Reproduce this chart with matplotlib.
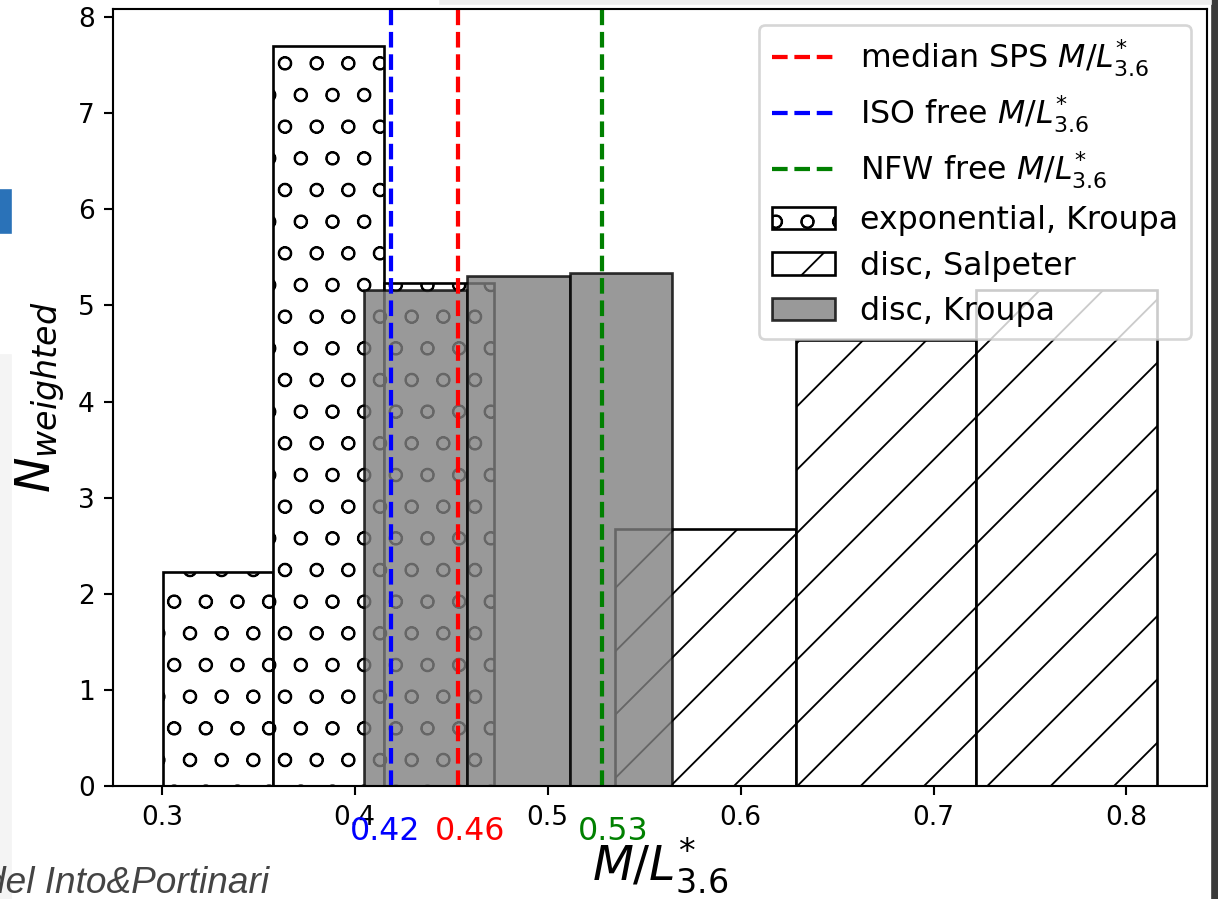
import numpy as np
import matplotlib
matplotlib.use("Agg")
from matplotlib import pyplot as plt
from matplotlib.patches import Rectangle

# bin edges and weighted counts
exp_kroupa_edges = [0.3005, 0.3574, 0.4153, 0.4722]
exp_kroupa_counts = [2.23, 7.70, 5.23]

disc_salpeter_edges = [0.5347, 0.6288, 0.7219, 0.8160]
disc_salpeter_counts = [2.67, 4.64, 5.16]

disc_kroupa_edges = [0.4050, 0.4583, 0.5115, 0.5643]
disc_kroupa_counts = [5.16, 5.31, 5.34]

# reference M/L values (vertical lines) and their printed labels
ref_names = ["median SPS", "ISO free", "NFW free"]
ref_values = [0.4536, 0.4189, 0.5280]
ref_texts = ["0.46", "0.42", "0.53"]
ref_colors = ["red", "blue", "green"]

plt.rcParams["hatch.linewidth"] = 0.7

DPI = 190
fig = plt.figure(figsize=(6.411, 4.7318), dpi=DPI)

# bits of the slide around the figure
fig.patches.append(Rectangle((0, 0), 10 / 1218, 1 - 355 / 899, transform=fig.transFigure,
                             color="#f4f4f4", zorder=-5))
fig.patches.append(Rectangle((0, 1 - 232 / 899), 10 / 1218, 42 / 899, transform=fig.transFigure,
                             color="#2a72b8", zorder=-5))
fig.patches.append(Rectangle((1 - 6 / 1218, 0), 6 / 1218, 1, transform=fig.transFigure,
                             color="#3a3a3a", zorder=-5))
fig.patches.append(Rectangle((440 / 1218, 1 - 3 / 899), 770 / 1218, 3 / 899, transform=fig.transFigure,
                             color="#eeeeee", zorder=-5))
fig.text(-15 / 1218, 1 - 893 / 899, "del Into&Portinari", fontsize=14, style="italic",
         family="Liberation Sans", color="#444444", ha="left", va="baseline")

ax = fig.add_axes([113 / 1218, 1 - 786 / 899, (1207 - 113) / 1218, (786 - 9) / 899])


def centers(edges):
    e = np.asarray(edges)
    return (e[:-1] + e[1:]) / 2


for name, val, col in zip(ref_names, ref_values, ref_colors):
    ax.axvline(val, color=col, ls="--", lw=1.6, label=name + r" $M/L^{*}_{3.6}$")

ax.hist(centers(exp_kroupa_edges), bins=exp_kroupa_edges, weights=exp_kroupa_counts,
        color="white", edgecolor="black", hatch="o", label="exponential, Kroupa")
ax.hist(centers(disc_salpeter_edges), bins=disc_salpeter_edges, weights=disc_salpeter_counts,
        color="white", edgecolor="black", hatch="/", label="disc, Salpeter")
ax.hist(centers(disc_kroupa_edges), bins=disc_kroupa_edges, weights=disc_kroupa_counts,
        color="gray", edgecolor="black", alpha=0.8, label="disc, Kroupa")

# value labels under the axis
label_dx = {"0.42": -0.003, "0.46": 0.0062, "0.53": 0.0059}
for val, txt, col in zip(ref_values, ref_texts, ref_colors):
    ax.text(val + label_dx[txt], -0.47, txt, color=col, fontsize=12,
            ha="center", va="center", clip_on=False)

ax.set_xticks([0.3, 0.4, 0.5, 0.6, 0.7, 0.8])
ax.set_yticks(range(0, 9))
ax.set_xlabel(r"$M/L^{*}_{3.6}$", fontsize=18, labelpad=2)
ax.set_ylabel(r"$N_{weighted}$", fontsize=18)
ax.legend(loc="upper right", fontsize=12, labelspacing=0.45)

fig.savefig("out.png", dpi=DPI)
